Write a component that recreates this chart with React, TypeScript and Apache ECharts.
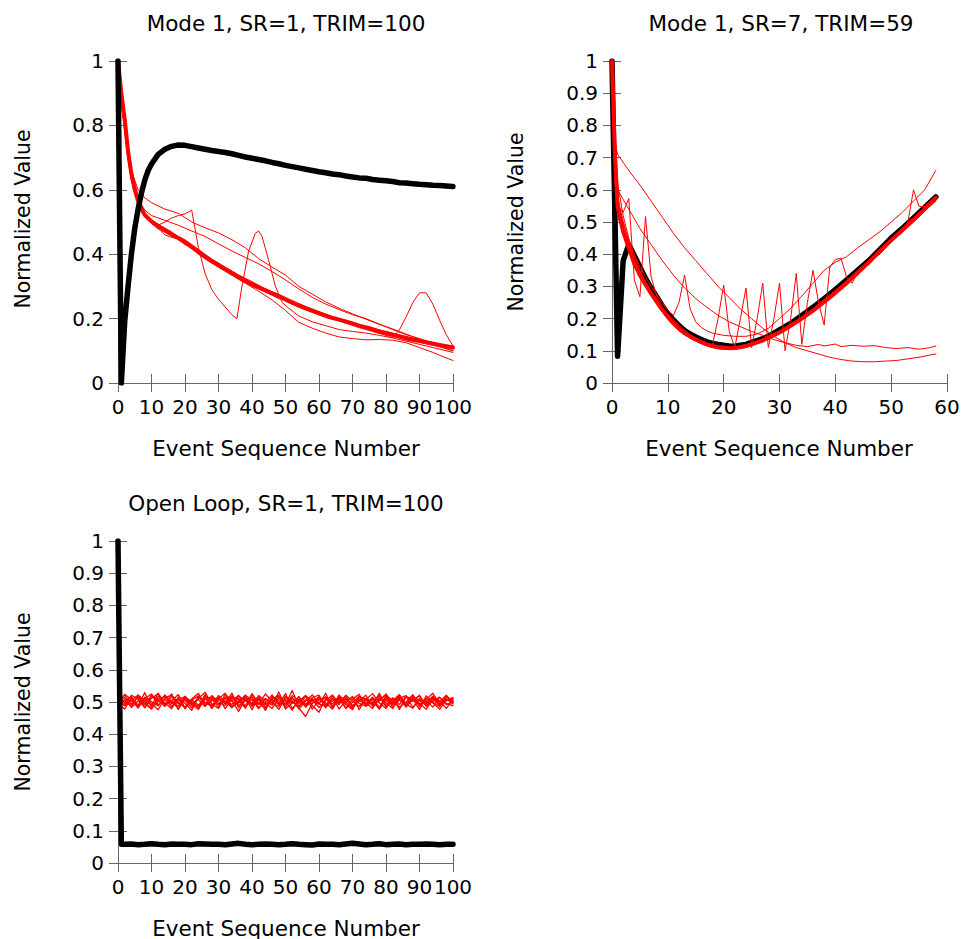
import React, { useEffect, useRef } from "react";
import * as echarts from "echarts";

type P = [number, number];

// ---------- Panel 1: Mode 1, SR=1, TRIM=100 ----------
const p1Black: P[] = [[0,1],[1,0],[2,0.19],[3,0.3],[4,0.4],[5,0.48],[6,0.54],[7,0.59],[8,0.63],[9,0.66],[10,0.68],[12,0.71],[14,0.726],[16,0.735],[18,0.739],[20,0.738],[22,0.734],[24,0.73],[26,0.726],[28,0.722],[30,0.719],[32,0.716],[34,0.712],[36,0.707],[38,0.702],[40,0.698],[42,0.694],[44,0.69],[46,0.685],[48,0.681],[50,0.676],[52,0.672],[54,0.668],[56,0.664],[58,0.66],[60,0.656],[62,0.653],[64,0.649],[66,0.647],[68,0.643],[70,0.64],[72,0.637],[74,0.636],[76,0.632],[78,0.63],[80,0.628],[82,0.626],[84,0.622],[86,0.621],[88,0.619],[90,0.617],[92,0.616],[94,0.614],[96,0.613],[98,0.612],[100,0.61]];
const p1RedMean: P[] = [[0,1],[1,0.9],[2,0.82],[3,0.72],[4,0.65],[5,0.6],[6,0.565],[7,0.54],[8,0.522],[10,0.502],[12,0.488],[15,0.47],[18,0.45],[21,0.43],[24,0.407],[27,0.385],[30,0.366],[33,0.348],[36,0.33],[39,0.312],[42,0.297],[45,0.283],[48,0.27],[51,0.254],[54,0.24],[57,0.228],[60,0.216],[63,0.205],[66,0.197],[69,0.188],[72,0.178],[75,0.17],[78,0.16],[81,0.152],[84,0.144],[87,0.136],[90,0.13],[93,0.124],[96,0.118],[100,0.11]];
const p1Run1: P[] = [[0,1],[2,0.8],[4,0.66],[6,0.6],[8,0.575],[10,0.56],[14,0.54],[18,0.527],[22,0.5],[26,0.482],[30,0.466],[34,0.445],[38,0.42],[42,0.386],[46,0.36],[50,0.335],[54,0.3],[58,0.276],[62,0.252],[66,0.232],[70,0.215],[74,0.198],[78,0.182],[82,0.168],[86,0.152],[90,0.136],[94,0.122],[100,0.1]];
const p1Run2: P[] = [[0,1],[2,0.82],[4,0.64],[6,0.57],[8,0.537],[10,0.52],[14,0.505],[18,0.49],[22,0.472],[26,0.455],[30,0.432],[34,0.41],[38,0.39],[42,0.37],[46,0.346],[50,0.32],[54,0.292],[58,0.266],[62,0.245],[66,0.228],[70,0.212],[74,0.2],[78,0.183],[82,0.166],[86,0.15],[90,0.138],[94,0.125],[100,0.105]];
const p1Run3: P[] = [[0,1],[2,0.8],[4,0.63],[6,0.56],[8,0.52],[10,0.5],[12,0.49],[14,0.5],[16,0.512],[18,0.52],[20,0.525],[22,0.537],[24,0.42],[26,0.34],[28,0.29],[30,0.26],[32,0.236],[34,0.212],[35.5,0.2],[37,0.3],[39,0.41],[41,0.465],[42,0.472],[43,0.455],[45,0.38],[47,0.3],[49,0.25],[51,0.232],[54,0.208],[58,0.19],[62,0.178],[66,0.166],[70,0.16],[74,0.155],[78,0.148],[82,0.14],[86,0.13],[90,0.12],[94,0.11],[100,0.095]];
const p1Run4: P[] = [[0,1],[1,0.87],[2,0.8],[3,0.71],[4,0.64],[6,0.57],[8,0.525],[10,0.505],[12,0.492],[14,0.475],[16,0.46],[18,0.452],[20,0.438],[24,0.41],[28,0.382],[32,0.358],[36,0.33],[40,0.31],[44,0.29],[48,0.27],[52,0.252],[56,0.233],[60,0.218],[64,0.2],[68,0.186],[72,0.172],[76,0.16],[80,0.148],[82,0.14],[84,0.165],[86,0.205],[88,0.25],[90,0.28],[92,0.28],[94,0.245],[96,0.195],[98,0.15],[100,0.115]];
const p1Run5: P[] = [[0,1],[2,0.81],[4,0.64],[6,0.56],[8,0.52],[10,0.5],[14,0.47],[18,0.445],[22,0.42],[26,0.39],[30,0.36],[34,0.335],[38,0.31],[42,0.285],[46,0.258],[50,0.225],[54,0.188],[58,0.17],[62,0.155],[66,0.143],[70,0.138],[74,0.134],[78,0.135],[82,0.133],[86,0.125],[90,0.11],[94,0.095],[97,0.082],[100,0.07]];
const p1Run6: P[] = [[0,1],[1,0.88],[2,0.78],[3,0.69],[4,0.63],[6,0.555],[8,0.515],[10,0.495],[12,0.478],[14,0.468],[16,0.455],[18,0.447],[20,0.44],[22,0.425],[24,0.41],[28,0.38],[32,0.352],[36,0.325],[40,0.3],[44,0.285],[48,0.265],[52,0.245],[56,0.228],[60,0.212],[64,0.2],[68,0.187],[72,0.177],[76,0.168],[80,0.158],[84,0.148],[88,0.137],[92,0.128],[96,0.118],[100,0.108]];
const p1Run7: P[] = [[0,1],[1,0.9],[2,0.83],[3,0.73],[4,0.66],[6,0.58],[8,0.53],[10,0.505],[12,0.49],[14,0.47],[16,0.458],[18,0.455],[20,0.445],[22,0.43],[24,0.415],[28,0.385],[32,0.36],[36,0.335],[40,0.315],[44,0.292],[48,0.275],[52,0.256],[56,0.238],[60,0.222],[64,0.206],[68,0.194],[72,0.18],[76,0.17],[80,0.16],[84,0.15],[88,0.14],[92,0.13],[96,0.12],[100,0.115]];
const p1Run8: P[] = [[0,1],[1,0.86],[2,0.79],[3,0.7],[4,0.64],[6,0.56],[8,0.52],[10,0.5],[12,0.482],[14,0.46],[16,0.452],[18,0.448],[20,0.43],[22,0.42],[24,0.4],[28,0.372],[32,0.348],[36,0.322],[40,0.302],[44,0.283],[48,0.262],[52,0.25],[56,0.232],[60,0.218],[64,0.198],[68,0.192],[72,0.176],[76,0.163],[80,0.152],[84,0.14],[88,0.133],[92,0.122],[96,0.112],[100,0.1]];

// ---------- Panel 2: Mode 1, SR=7, TRIM=59 ----------
const p2Black: P[] = [[0,1],[1,0.083],[2,0.38],[3,0.43],[4,0.395],[5,0.36],[6,0.325],[7,0.295],[8,0.268],[9,0.24],[10,0.215],[11,0.196],[12,0.178],[13,0.163],[14,0.152],[15,0.143],[16,0.135],[17,0.128],[18,0.123],[19,0.12],[20,0.117],[21,0.115],[22,0.114],[23,0.117],[24,0.12],[25,0.126],[26,0.132],[27,0.138],[28,0.145],[29,0.155],[30,0.165],[32,0.185],[34,0.21],[36,0.235],[38,0.262],[40,0.29],[42,0.32],[44,0.35],[46,0.38],[48,0.415],[50,0.45],[52,0.48],[54,0.512],[56,0.545],[58,0.578]];
const p2RedMean: P[] = [[0,1],[0.5,0.72],[1,0.55],[2,0.47],[3,0.42],[4,0.37],[5,0.335],[6,0.305],[7,0.278],[8,0.253],[9,0.228],[10,0.205],[11,0.185],[12,0.168],[13,0.155],[14,0.144],[15,0.135],[16,0.127],[17,0.12],[18,0.115],[19,0.112],[20,0.11],[21,0.108],[22,0.109],[23,0.111],[24,0.115],[25,0.12],[26,0.126],[27,0.132],[28,0.14],[30,0.157],[32,0.178],[34,0.2],[36,0.225],[38,0.252],[40,0.28],[42,0.31],[44,0.342],[46,0.375],[48,0.41],[50,0.443],[52,0.475],[54,0.507],[56,0.54],[58,0.575]];
const p2RunA: P[] = [[0,1],[0.5,0.75],[1,0.71],[3,0.66],[5,0.615],[7,0.565],[9,0.515],[11,0.465],[13,0.42],[15,0.38],[17,0.34],[19,0.3],[21,0.265],[23,0.23],[25,0.2],[27,0.17],[29,0.145],[31,0.125],[33,0.11],[35,0.1],[37,0.09],[39,0.08],[41,0.073],[43,0.068],[45,0.066],[47,0.066],[49,0.068],[51,0.07],[53,0.075],[55,0.08],[57,0.087],[58,0.09]];
const p2RunB: P[] = [[0,1],[0.5,0.66],[1,0.6],[2,0.57],[3,0.54],[5,0.48],[7,0.43],[9,0.38],[11,0.335],[13,0.295],[15,0.262],[17,0.235],[19,0.21],[21,0.19],[23,0.175],[25,0.16],[27,0.148],[29,0.135],[31,0.125],[33,0.117],[35,0.113],[37,0.12],[38,0.115],[40,0.121],[41,0.113],[43,0.117],[45,0.114],[47,0.116],[49,0.11],[51,0.107],[53,0.11],[55,0.105],[57,0.11],[58,0.115]];
const p2RunC: P[] = [[0,1],[0.5,0.62],[1,0.55],[2,0.53],[3,0.573],[4,0.32],[5,0.268],[6,0.517],[7,0.33],[8,0.27],[9,0.235],[10,0.21],[11,0.19],[12,0.172],[13,0.158],[14,0.146],[15,0.136],[16,0.128],[17,0.122],[18,0.118],[19,0.2],[20,0.304],[21,0.16],[22,0.11],[23,0.2],[24,0.295],[25,0.11],[26,0.2],[27,0.31],[28,0.11],[29,0.2],[30,0.31],[31,0.1],[32,0.2],[33,0.34],[34,0.12],[35,0.25],[36,0.35],[37,0.25],[38,0.18],[39,0.36],[40,0.383],[41,0.388],[42,0.33],[43,0.31],[44,0.345],[46,0.378],[48,0.412],[50,0.446],[52,0.478],[53,0.5],[54,0.6],[55,0.548],[56,0.548],[57,0.565],[58,0.575]];
const p2RunD: P[] = [[0,1],[0.5,0.7],[1,0.56],[2,0.5],[3,0.44],[4,0.4],[5,0.36],[6,0.33],[7,0.3],[8,0.275],[9,0.25],[10,0.225],[11,0.21],[12,0.25],[13,0.335],[14,0.23],[15,0.19],[16,0.172],[17,0.162],[18,0.155],[20,0.148],[22,0.145],[24,0.145],[26,0.152],[28,0.17],[30,0.2],[32,0.232],[34,0.27],[36,0.31],[38,0.35],[40,0.375],[42,0.392],[44,0.42],[46,0.445],[48,0.47],[50,0.5],[52,0.53],[54,0.565],[56,0.6],[57,0.63],[58,0.66]];
const p2RunE: P[] = [[0,1],[0.5,0.74],[1,0.58],[2,0.5],[3,0.44],[4,0.385],[5,0.345],[6,0.31],[7,0.285],[8,0.26],[9,0.232],[10,0.21],[11,0.188],[12,0.17],[13,0.155],[14,0.142],[15,0.133],[16,0.125],[17,0.118],[18,0.112],[19,0.108],[20,0.106],[21,0.105],[22,0.107],[23,0.11],[24,0.113],[25,0.118],[26,0.124],[27,0.13],[28,0.138],[30,0.155],[32,0.175],[34,0.197],[36,0.222],[38,0.25],[40,0.278],[42,0.305],[44,0.338],[46,0.372],[48,0.405],[50,0.44],[52,0.472],[54,0.505],[56,0.538],[58,0.57]];
const p2RunF: P[] = [[0,1],[0.5,0.8],[1,0.62],[2,0.52],[3,0.45],[4,0.395],[5,0.35],[6,0.315],[7,0.285],[8,0.26],[9,0.235],[10,0.215],[11,0.198],[12,0.18],[13,0.165],[14,0.15],[15,0.14],[16,0.13],[17,0.123],[18,0.118],[19,0.114],[20,0.112],[21,0.11],[22,0.112],[23,0.115],[24,0.119],[25,0.124],[26,0.13],[27,0.137],[28,0.145],[30,0.162],[32,0.183],[34,0.205],[36,0.23],[38,0.258],[40,0.288],[42,0.318],[44,0.35],[46,0.38],[48,0.415],[50,0.447],[52,0.478],[54,0.51],[56,0.545],[58,0.58]];
const p2RunG: P[] = [[0,1],[0.5,0.68],[1,0.52],[2,0.46],[3,0.41],[4,0.37],[5,0.335],[6,0.3],[7,0.27],[8,0.245],[9,0.22],[10,0.2],[11,0.18],[12,0.163],[13,0.15],[14,0.14],[15,0.13],[16,0.122],[17,0.115],[18,0.11],[19,0.106],[20,0.104],[21,0.104],[22,0.105],[23,0.108],[24,0.112],[25,0.118],[26,0.125],[27,0.133],[28,0.142],[30,0.16],[32,0.18],[34,0.202],[36,0.23],[38,0.26],[40,0.285],[41,0.3],[42,0.305],[43,0.33],[44,0.335],[45,0.36],[46,0.368],[47,0.39],[48,0.4],[50,0.44],[52,0.468],[54,0.5],[56,0.535],[57,0.55],[58,0.565]];

// ---------- Panel 3: Open Loop, SR=1, TRIM=100 ----------
// black run: x=0 -> 1, x=1 -> 0.058, then x = 2,4,...,100 (thousandths)
const p3BlackStart: P[] = [[0,1],[1,0.058]];
const p3BlackVals = [58,59,57,58,60,58,57,59,58,58,57,60,59,58,58,57,59,61,58,57,58,59,58,57,58,60,58,57,56,59,58,58,57,59,61,59,57,58,60,57,58,59,57,58,58,59,58,57,58,58];
// red runs at x = 0,2,...,100 (thousandths)
const p3Red1 = [508,521,492,515,484,511,526,489,505,478,517,498,486,523,480,509,495,528,482,513,476,520,503,490,531,484,512,496,519,478,507,515,485,522,499,480,518,505,492,527,488,511,477,516,502,521,487,509,494,517,506];
const p3Red2 = [495,478,514,490,529,482,501,520,486,510,496,474,517,491,512,483,524,504,471,508,497,518,483,507,493,526,480,503,520,489,468,511,494,517,481,509,524,487,501,479,514,492,519,485,507,497,477,512,490,516,500];
const p3Red3 = [514,503,486,521,505,489,527,496,479,515,507,490,511,530,494,480,516,502,521,484,509,492,525,503,477,513,500,486,519,504,493,527,482,508,497,517,476,512,494,520,484,504,523,493,481,511,499,518,489,508,503];
const p3Red4 = [490,524,508,481,515,495,476,512,522,498,484,509,527,488,504,516,479,512,496,521,486,508,474,514,498,492,536,485,507,495,517,482,510,492,521,503,486,508,526,497,480,513,492,517,509,477,519,500,486,510,494];
const p3Red5 = [503,489,521,509,482,517,504,493,525,477,512,495,508,486,520,500,489,517,507,481,523,493,510,497,486,518,503,481,455,496,509,490,519,478,504,515,496,487,511,504,523,483,507,495,517,486,508,527,493,504,511];
const p3Red6 = [486,507,494,516,500,478,518,492,504,523,481,508,490,513,480,520,501,493,511,487,526,496,480,517,504,492,514,478,503,522,494,486,511,499,519,482,504,494,515,478,509,497,521,488,511,493,504,484,514,495,489];
const p3Red7 = [520,495,504,487,511,525,491,508,484,503,518,494,477,510,516,492,503,482,519,504,494,512,491,509,521,478,497,516,488,507,483,504,522,496,512,487,509,498,480,514,504,491,511,520,483,507,495,516,504,480,509];
const p3Red8 = [500,514,483,504,493,521,508,486,517,494,505,482,516,500,491,509,527,486,503,514,490,508,496,480,512,494,520,504,487,510,497,516,484,507,492,476,515,510,489,503,525,494,507,485,517,504,490,510,500,521,497];
const p3Red9 = [511,488,505,522,493,479,509,517,498,487,514,502,481,519,506,493,512,484,498,521,507,479,511,495,518,502,475,509,493,514,521,488,503,511,480,499,517,492,508,483,519,506,484,500,523,491,512,497,478,505,514];
const p3Red10 = [497,505,517,483,509,501,488,522,495,511,479,506,519,497,487,513,495,520,489,504,516,482,498,522,490,507,496,517,484,505,513,497,478,515,508,490,503,521,487,510,498,480,516,493,506,519,487,502,515,492,501];

const TITLES = ["Mode 1, SR=1, TRIM=100", "Mode 1, SR=7, TRIM=59", "Open Loop, SR=1, TRIM=100"];
const X_NAME = "Event Sequence Number";
const Y_NAME = "Normalized Value";

const FONT = '"DejaVu Sans", Verdana, sans-serif';
const AX = "#666666";

const GRIDS = [
  { left: 118, top: 61, width: 335, height: 322, xMax: 100, xInt: 10, yInt: 0.2 },
  { left: 612, top: 61, width: 335, height: 322, xMax: 60, xInt: 10, yInt: 0.1 },
  { left: 118, top: 541, width: 335, height: 322, xMax: 100, xInt: 10, yInt: 0.1 },
];

function thousandths(vals: number[], step: number, start: number): P[] {
  return vals.map((v, i) => [start + i * step, v / 1000] as P);
}

function line(data: P[], gi: number, color: string, width: number, z: number) {
  return {
    type: "line",
    data,
    xAxisIndex: gi,
    yAxisIndex: gi,
    showSymbol: false,
    symbol: "none",
    silent: true,
    clip: true,
    z,
    lineStyle: { color, width, join: "round", cap: "round" },
    itemStyle: { color },
  };
}

export default function App() {
  const ref = useRef<HTMLDivElement>(null);
  useEffect(() => {
    document.body.style.margin = "0";
    if (!ref.current) return;
    const chart = echarts.init(ref.current, undefined, { renderer: "svg" });

    const xAxes: any[] = [];
    const yAxes: any[] = [];
    GRIDS.forEach((g, i) => {
      xAxes.push({
        type: "value", gridIndex: i, position: "bottom", min: 0, max: g.xMax, interval: g.xInt,
        axisLine: { show: true, lineStyle: { color: AX, width: 1 } },
        axisTick: { show: true, inside: true, length: 9, lineStyle: { color: AX } },
        splitLine: { show: false },
        axisLabel: { show: true, color: "#000", fontSize: 20, fontFamily: FONT, margin: 14, hideOverlap: false },
      });
      yAxes.push({
        type: "value", gridIndex: i, position: "left", min: 0, max: 1, interval: g.yInt,
        axisLine: { show: true, lineStyle: { color: AX, width: 1 } },
        axisTick: { show: true, inside: true, length: 9, lineStyle: { color: AX } },
        splitLine: { show: false },
        axisLabel: { show: true, color: "#000", fontSize: 20, fontFamily: FONT, margin: 14 },
      });
    });
    GRIDS.forEach((g, i) => {
      xAxes.push({
        type: "value", gridIndex: i, position: "top", min: 0, max: g.xMax, interval: g.xInt,
        axisLine: { show: true, lineStyle: { color: AX, width: 1 } },
        axisTick: { show: true, inside: true, length: 9, lineStyle: { color: AX } },
        splitLine: { show: false }, axisLabel: { show: false },
      });
      yAxes.push({
        type: "value", gridIndex: i, position: "right", min: 0, max: 1, interval: g.yInt,
        axisLine: { show: true, lineStyle: { color: AX, width: 1 } },
        axisTick: { show: true, inside: true, length: 9, lineStyle: { color: AX } },
        splitLine: { show: false }, axisLabel: { show: false },
      });
    });

    const red = "#ff0000";
    const series: any[] = [];
    [p1Run1, p1Run2, p1Run3, p1Run4, p1Run5, p1Run6, p1Run7, p1Run8].forEach((d) => series.push(line(d, 0, red, 1, 2)));
    series.push(line(p1RedMean, 0, red, 4, 3));
    series.push(line(p1Black, 0, "#000", 5.5, 4));

    series.push(line(p2Black, 1, "#000", 5.5, 2));
    [p2RunA, p2RunB, p2RunC, p2RunD, p2RunE, p2RunF, p2RunG].forEach((d) => series.push(line(d, 1, red, 1, 3)));
    series.push(line(p2RedMean, 1, red, 4, 4));

    [p3Red1, p3Red2, p3Red3, p3Red4, p3Red5, p3Red6, p3Red7, p3Red8, p3Red9, p3Red10].forEach((v) =>
      series.push(line(thousandths(v, 2, 0), 2, red, 1.3, 2))
    );
    series.push(line(p3BlackStart.concat(thousandths(p3BlackVals, 2, 2)), 2, "#000", 5.5, 4));

    const txt = (text: string, x: number, y: number, size: number, rot = 0) => ({
      type: "text", x, y, rotation: rot, silent: true,
      style: {
        text, fill: "#000", fontSize: size, fontFamily: FONT,
        align: "center", verticalAlign: "middle", textAlign: "center", textVerticalAlign: "middle",
      },
    });

    const graphic: any[] = [
      txt(TITLES[0], 286, 23, 21.5),
      txt(TITLES[1], 781, 23, 21.5),
      txt(TITLES[2], 286, 503, 21.5),
      txt(X_NAME, 286, 448, 21.5),
      txt(X_NAME, 779, 448, 21.5),
      txt(X_NAME, 286, 928, 21.5),
      txt(Y_NAME, 23, 219, 20.5, Math.PI / 2),
      txt(Y_NAME, 516, 222, 20.5, Math.PI / 2),
      txt(Y_NAME, 23, 702, 20.5, Math.PI / 2),
    ];

    chart.setOption({
      animation: false,
      backgroundColor: "#ffffff",
      grid: GRIDS.map((g) => ({ left: g.left, top: g.top, width: g.width, height: g.height, containLabel: false })),
      xAxis: xAxes,
      yAxis: yAxes,
      series,
      graphic,
    });
    return () => chart.dispose();
  }, []);
  return <div ref={ref} style={{ width: 965, height: 939 }} />;
}
